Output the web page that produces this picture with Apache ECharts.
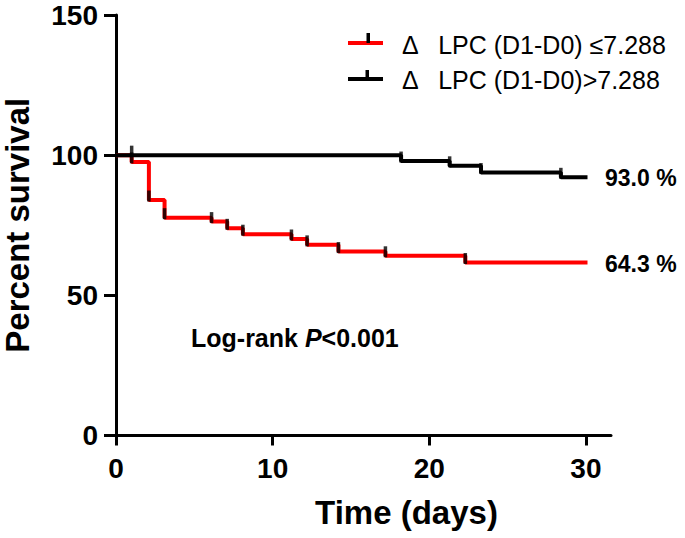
<!DOCTYPE html>
<html>
<head>
<meta charset="utf-8">
<script src="https://cdn.jsdelivr.net/npm/echarts@6/dist/echarts.min.js"></script>
<style>html,body{margin:0;padding:0;background:#fff}#c{width:685px;height:538px}</style>
</head>
<body>
<div id="c"></div>
<script>
// Kaplan-Meier step data (time in days, percent survival)
var redTimes = [0, 1.0, 2.1, 3.1, 6.1, 7.1, 8.1, 11.2, 12.2, 14.2, 17.2, 22.3, 30.1];
var redSurv  = [100, 97.6, 84.0, 77.7, 76.3, 73.9, 71.8, 70.1, 68.0, 65.6, 64.1, 61.7, 61.7];
var blackTimes = [0, 18.2, 21.3, 23.3, 28.4, 30.1];
var blackSurv  = [100, 97.9, 96.2, 93.8, 92.1, 92.1];
// censor marks (times on each curve)
var redCensor = [1.0, 2.1, 3.1, 6.1, 7.1, 8.1, 11.2, 12.2, 14.2, 17.2, 22.3];
var blackCensor = [1.0, 18.2, 21.3, 23.3, 28.4];
var xTicks = [0, 10, 20, 30];
var legendNames = ['\u0394   LPC (D1-D0) \u22647.288', '\u0394   LPC (D1-D0)>7.288'];
var endLabels = ['93.0 %', '64.3 %'];

function pairs(t, s) { return t.map(function (v, i) { return [v, s[i]]; }); }
function levelAt(t, times, surv) {
  var v = surv[0];
  for (var i = 0; i < times.length; i++) { if (times[i] <= t + 1e-9) v = surv[i]; }
  return v;
}
function censorPts(c, times, surv) { return c.map(function (t) { return [t, levelAt(t, times, surv)]; }); }

var chart = echarts.init(document.getElementById('c'), null, { renderer: 'svg' });
var F = 'Liberation Sans, Arial, sans-serif';
chart.setOption({
  animation: false,
  backgroundColor: '#fff',
  grid: { left: 116, right: 74, top: 15, bottom: 102.5, containLabel: false, outerBoundsMode: 'none' },
  xAxis: {
    type: 'value', min: 0, max: 31.6,
    name: 'Time (days)', nameLocation: 'middle', nameGap: 60,
    nameTextStyle: { fontFamily: F, fontWeight: 'bold', fontSize: 33, color: '#000', padding: [0, 0, 0, 86] },
    axisLine: { show: true, onZero: false, lineStyle: { color: '#000', width: 3 } },
    axisTick: { show: true, length: 10, inside: false, customValues: xTicks, lineStyle: { color: '#000', width: 3 } },
    axisLabel: { customValues: xTicks, margin: 19, fontFamily: F, fontWeight: 'bold', fontSize: 28, color: '#000' },
    splitLine: { show: false }
  },
  yAxis: {
    type: 'value', min: 0, max: 150, interval: 50,
    name: 'Percent survival', nameLocation: 'middle', nameGap: 82,
    nameTextStyle: { fontFamily: F, fontWeight: 'bold', fontSize: 33, color: '#000' },
    axisLine: { show: true, onZero: false, lineStyle: { color: '#000', width: 3 } },
    axisTick: { show: true, length: 12, inside: false, lineStyle: { color: '#000', width: 3 } },
    axisLabel: { margin: 18, fontFamily: F, fontWeight: 'bold', fontSize: 28, color: '#000' },
    splitLine: { show: false }
  },
  series: [
    { type: 'line', name: legendNames[0], step: 'end', data: pairs(redTimes, redSurv), symbol: 'none',
      lineStyle: { color: '#ff0000', width: 4 }, z: 2 },
    { type: 'line', name: legendNames[1], step: 'end', data: pairs(blackTimes, blackSurv), symbol: 'none',
      lineStyle: { color: '#000', width: 4 }, z: 3 },
    { type: 'scatter', data: censorPts(redCensor, redTimes, redSurv), symbol: 'rect', symbolSize: [3.5, 11],
      symbolOffset: [0, -4], itemStyle: { color: '#000' }, z: 4, silent: true },
    { type: 'scatter', data: censorPts(blackCensor, blackTimes, blackSurv), symbol: 'rect', symbolSize: [3.5, 11],
      symbolOffset: [0, -4], itemStyle: { color: '#000' }, z: 4, silent: true }
  ],
  graphic: [
    { type: 'line', shape: { x1: 348, y1: 43, x2: 383, y2: 43 }, style: { stroke: '#ff0000', lineWidth: 4 } },
    { type: 'rect', shape: { x: 366.5, y: 33, width: 3.5, height: 10 }, style: { fill: '#000' } },
    { type: 'text', x: 402, y: 45, style: { text: legendNames[0], font: '25px ' + F, fill: '#000', verticalAlign: 'middle' } },
    { type: 'line', shape: { x1: 348, y1: 79, x2: 383, y2: 79 }, style: { stroke: '#000', lineWidth: 4 } },
    { type: 'rect', shape: { x: 365.5, y: 70, width: 3.5, height: 10 }, style: { fill: '#000' } },
    { type: 'text', x: 402, y: 80, style: { text: legendNames[1], font: '25px ' + F, fill: '#000', verticalAlign: 'middle' } },
    { type: 'text', x: 605, y: 178, style: { text: endLabels[0], font: 'bold 23px ' + F, fill: '#000', verticalAlign: 'middle' } },
    { type: 'text', x: 605, y: 264, style: { text: endLabels[1], font: 'bold 23px ' + F, fill: '#000', verticalAlign: 'middle' } },
    { type: 'text', x: 191, y: 338, style: {
        text: '{a|Log-rank }{b|P}{a|<0.001}', verticalAlign: 'middle',
        rich: { a: { fontFamily: F, fontWeight: 'bold', fontSize: 25, fill: '#000' },
                b: { fontFamily: F, fontWeight: 'bold', fontStyle: 'italic', fontSize: 25, fill: '#000' } } } }
  ]
});
</script>
</body>
</html>
